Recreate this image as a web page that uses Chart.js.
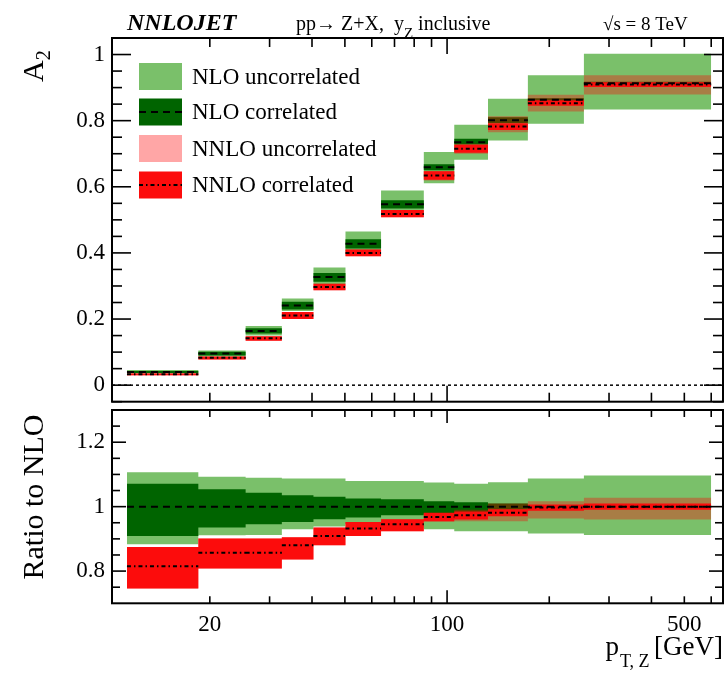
<!DOCTYPE html>
<html><head><meta charset="utf-8">
<script src="https://cdn.jsdelivr.net/npm/chart.js@4.4.0/dist/chart.umd.min.js"></script>
<style>
html,body{margin:0;padding:0;background:#fff;}
#wrap{position:relative;width:725px;height:679px;background:#fff;}
#c1{position:absolute;left:0;top:0;}
#c2{position:absolute;left:0;top:405px;}
</style></head><body>
<div id="wrap">
<canvas id="c1" width="725" height="405"></canvas>
<canvas id="c2" width="725" height="274"></canvas>
</div>
<script>
// ---------------- DATA ----------------
const binEdges = [11.4, 18.5, 25.5, 32.6, 40.4, 50.2, 63.9, 85.4, 105, 132, 173, 253, 600];

// Top panel: A2
const nloCentral  = [0.040,0.096,0.164,0.241,0.327,0.428,0.547,0.659,0.735,0.801,0.863,0.913];
const nloUncLow   = [0.035,0.087,0.150,0.224,0.306,0.405,0.515,0.611,0.682,0.740,0.791,0.834];
const nloUncHigh  = [0.046,0.105,0.179,0.262,0.356,0.465,0.589,0.705,0.788,0.866,0.937,1.002];
const nloCorLow   = [0.037,0.090,0.156,0.229,0.313,0.413,0.534,0.650,0.728,0.793,0.858,0.909];
const nloCorHigh  = [0.043,0.101,0.172,0.252,0.339,0.441,0.559,0.668,0.745,0.810,0.868,0.918];
const nnloCentral = [0.033,0.083,0.142,0.211,0.297,0.400,0.518,0.634,0.715,0.782,0.853,0.909];
const nnloUncLow  = [0.029,0.078,0.134,0.200,0.287,0.390,0.508,0.619,0.700,0.765,0.828,0.879];
const nnloUncHigh = [0.036,0.087,0.148,0.221,0.307,0.410,0.530,0.648,0.730,0.813,0.878,0.937];
const nnloCorLow  = [0.030,0.078,0.134,0.200,0.287,0.390,0.508,0.621,0.703,0.772,0.845,0.902];
const nnloCorHigh = [0.035,0.087,0.148,0.221,0.307,0.410,0.530,0.647,0.727,0.792,0.862,0.916];

// Bottom panel: ratio to NLO
const rNloCentral  = [1,1,1,1,1,1,1,1,1,1,1,1];
const rNloUncLow   = [0.883,0.911,0.912,0.930,0.938,0.945,0.935,0.930,0.924,0.924,0.917,0.912];
const rNloUncHigh  = [1.107,1.093,1.090,1.087,1.087,1.080,1.080,1.075,1.071,1.076,1.087,1.097];
const rNloCorLow   = [0.909,0.935,0.945,0.952,0.961,0.966,0.973,0.979,0.980,0.990,0.995,0.995];
const rNloCorHigh  = [1.071,1.054,1.043,1.035,1.031,1.025,1.023,1.017,1.014,1.010,1.005,1.005];
const rNnloCentral = [0.815,0.857,0.857,0.880,0.909,0.932,0.945,0.968,0.973,0.981,0.997,1.000];
const rNnloUncLow  = [0.746,0.808,0.808,0.836,0.880,0.909,0.924,0.953,0.955,0.955,0.963,0.960];
const rNnloUncHigh = [0.875,0.901,0.901,0.905,0.935,0.952,0.961,0.983,0.990,1.010,1.017,1.028];
const rNnloCorLow  = [0.746,0.808,0.808,0.836,0.880,0.909,0.924,0.955,0.960,0.970,0.987,0.990];
const rNnloCorHigh = [0.875,0.901,0.901,0.905,0.935,0.952,0.961,0.980,0.985,0.992,1.007,1.010];

// Axes / ticks
const xRange = [10.3, 650];
const xTickValues = [20, 100, 500];
const xTickLabels = ['20', '100', '500'];
const xMinorTicks = [20,30,40,50,60,70,80,90,200,300,400,500,600];
const xMajorTicks = [100];
const yTopRange = [-0.05, 1.05];
const yTopTicks = [0, 0.2, 0.4, 0.6, 0.8, 1];
const yTopLabels = ['0','0.2','0.4','0.6','0.8','1'];
const yTopMinor = [-0.05,0.05,0.1,0.15,0.25,0.3,0.35,0.45,0.5,0.55,0.65,0.7,0.75,0.85,0.9,0.95,1.05];
const yBotRange = [0.7, 1.3];
const yBotTicks = [0.8, 1, 1.2];
const yBotLabels = ['0.8','1','1.2'];
const yBotMinor = [0.75,0.85,0.9,0.95,1.05,1.1,1.15,1.25];
const legendLabels = ['NLO uncorrelated','NLO correlated','NNLO uncorrelated','NNLO correlated'];

// ---------------- STYLE ----------------
const FONT = '"Liberation Serif", "Times New Roman", serif';
Chart.defaults.font.family = FONT;
Chart.defaults.color = '#000';
const C_LG = 'rgb(122,192,106)';
const C_DG = 'rgb(0,100,0)';
const C_PINK = 'rgba(255,0,0,0.35)';
const C_RED = 'rgb(252,12,12)';
const DASH_NLO = [7,5];
const DASH_NNLO = [4,3,1.5,3];

function steps(vals){ const p=[]; vals.forEach((v,i)=>{p.push({x:binEdges[i],y:v});p.push({x:binEdges[i+1],y:v});}); return p; }
function segs(vals){ const p=[]; vals.forEach((v,i)=>{p.push({x:binEdges[i],y:v});p.push({x:binEdges[i+1],y:v});p.push({x:binEdges[i+1],y:null});}); return p; }

function band(lo, hi, color, order, startIndex){
  return [
    {data:steps(lo), borderWidth:0, pointRadius:0, fill:false, order:order, backgroundColor:'rgba(0,0,0,0)', borderColor:'rgba(0,0,0,0)'},
    {data:steps(hi), borderWidth:0, pointRadius:0, fill:startIndex, order:order, backgroundColor:color, borderColor:'rgba(0,0,0,0)'}
  ];
}
function buildDatasets(uL,uH,cL,cH,nuL,nuH,ncL,ncH,cen,ncen,nloLineFn,extra){
  const ds=[];
  ds.push(...band(uL,uH,C_LG,10,0));
  ds.push(...band(cL,cH,C_DG,8,2));
  ds.push(...band(nuL,nuH,C_PINK,6,4));
  ds.push(...band(ncL,ncH,C_RED,4,6));
  ds.push({data:nloLineFn(cen), borderColor:'#000', borderWidth:2, borderDash:DASH_NLO, pointRadius:0, fill:false, order:2});
  ds.push({data:segs(ncen), borderColor:'#000', borderWidth:2, borderDash:DASH_NNLO, pointRadius:0, fill:false, order:1});
  if (extra) ds.push(extra);
  return ds;
}

function ln(ctx,x1,y1,x2,y2){ctx.beginPath();ctx.moveTo(x1,y1);ctx.lineTo(x2,y2);ctx.stroke();}
function frameTicks(chart, yMaj, yMin, yMajLen, yMinLen, xMajLen, xMinLen){
  const {ctx, chartArea:a, scales:{x,y}} = chart;
  ctx.save(); ctx.strokeStyle='#000'; ctx.lineWidth=1.6; ctx.setLineDash([]);
  yMaj.forEach(v=>{const p=y.getPixelForValue(v); ln(ctx,a.left,p,a.left+yMajLen,p); ln(ctx,a.right,p,a.right-yMajLen,p);});
  yMin.forEach(v=>{const p=y.getPixelForValue(v); ln(ctx,a.left,p,a.left+yMinLen,p); ln(ctx,a.right,p,a.right-yMinLen,p);});
  xMinorTicks.forEach(v=>{const p=x.getPixelForValue(v); ln(ctx,p,a.bottom,p,a.bottom-xMinLen); ln(ctx,p,a.top,p,a.top+xMinLen);});
  xMajorTicks.forEach(v=>{const p=x.getPixelForValue(v); ln(ctx,p,a.bottom,p,a.bottom-xMajLen); ln(ctx,p,a.top,p,a.top+xMajLen);});
  ctx.lineWidth=2; ctx.strokeRect(a.left,a.top,a.width,a.height);
  ctx.restore();
}

const topDeco = {
  id:'topDeco',
  afterDraw(chart){
    const ctx = chart.ctx;
    frameTicks(chart, yTopTicks, yTopMinor, 19, 10, 16, 9);
    ctx.save();
    ctx.fillStyle='#000'; ctx.textBaseline='alphabetic'; ctx.textAlign='left';
    // header
    ctx.font='italic bold 24px '+FONT; ctx.fillText('NNLOJET',127,30);
    let x=296; ctx.font='20px '+FONT;
    const s1='pp\u2192 Z+X,  y'; ctx.fillText(s1,x,30); x+=ctx.measureText(s1).width;
    ctx.font='15px '+FONT; ctx.fillText('Z',x,38); x+=ctx.measureText('Z').width;
    ctx.font='20px '+FONT; ctx.fillText(' inclusive',x,30);
    ctx.font='19px '+FONT; ctx.fillText('\u221As = 8 TeV',603,30);
    // y title A2
    ctx.save(); ctx.translate(43,82); ctx.rotate(-Math.PI/2);
    ctx.font='30px '+FONT; ctx.fillText('A',0,0); const w=ctx.measureText('A').width;
    ctx.font='20px '+FONT; ctx.fillText('2',w,7);
    ctx.restore();
    // legend
    const lx=139, lw=43, lh=27, tx=192;
    const cy=[76.5,112,148.5,185];
    const cols=[C_LG,C_DG,C_PINK,C_RED];
    cols.forEach((c,i)=>{
      ctx.fillStyle=c; ctx.fillRect(lx,cy[i]-lh/2,lw,lh);
      if(i===1||i===3){
        ctx.strokeStyle='#000'; ctx.lineWidth=2; ctx.setLineDash(i===1?DASH_NLO:DASH_NNLO);
        ln(ctx,lx,cy[i],lx+lw,cy[i]); ctx.setLineDash([]);
      }
      ctx.fillStyle='#000'; ctx.font='23px '+FONT; ctx.textBaseline='middle';
      ctx.fillText(legendLabels[i],tx,cy[i]+1);
    });
    ctx.restore();
  }
};

const botDeco = {
  id:'botDeco',
  afterDraw(chart){
    const ctx = chart.ctx;
    frameTicks(chart, yBotTicks, yBotMinor, 14, 8, 13, 7);
    ctx.save(); ctx.fillStyle='#000'; ctx.textBaseline='alphabetic';
    // y title
    ctx.save(); ctx.translate(43,92); ctx.rotate(-Math.PI/2);
    ctx.font='30px '+FONT; ctx.textAlign='center'; ctx.fillText('Ratio to NLO',0,0);
    ctx.restore();
    // x title
    ctx.textAlign='left';
    ctx.font='27px '+FONT; const wG=ctx.measureText('[GeV]').width;
    ctx.fillText('[GeV]',723-wG,250);
    ctx.font='18px '+FONT; const wS=ctx.measureText('T, Z ').width;
    ctx.fillText('T, Z',723-wG-wS,262);
    ctx.font='27px '+FONT; const wP=ctx.measureText('p').width;
    ctx.fillText('p',723-wG-wS-wP-1,250);
    ctx.restore();
  }
};

function xScale(showLabels){
  return {
    type:'logarithmic', min:xRange[0], max:xRange[1], display:showLabels,
    afterBuildTicks(s){ s.ticks = xTickValues.map(v=>({value:v})); },
    afterFit(s){ if(showLabels) s.height = 274-198.3; s.paddingLeft=0; s.paddingRight=0; },
    ticks:{ autoSkip:false, maxRotation:0, minRotation:0, padding:8, font:{size:23}, color:'#000',
            callback:(v,i)=>xTickLabels[i] },
    grid:{display:false, drawTicks:false}, border:{display:false}
  };
}
function yScale(range, ticks, labels){
  return {
    type:'linear', min:range[0], max:range[1],
    afterBuildTicks(s){ s.ticks = ticks.map(v=>({value:v})); },
    afterFit(s){ s.width = 112; s.paddingTop=0; s.paddingBottom=0; },
    ticks:{ padding:7, font:{size:23}, color:'#000', callback:(v,i)=>labels[i] },
    grid:{display:false, drawTicks:false}, border:{display:false}
  };
}

const commonOpts = {
  responsive:false, animation:false, devicePixelRatio:1,
  plugins:{legend:{display:false}, tooltip:{enabled:false}},
  elements:{line:{tension:0}, point:{radius:0}}
};

const zeroLine = {data:[{x:xRange[0],y:0},{x:xRange[1],y:0}], borderColor:'#000', borderWidth:1.5, borderDash:[3,3], pointRadius:0, fill:false, order:3};

new Chart(document.getElementById('c1'), {
  type:'line',
  data:{datasets: buildDatasets(nloUncLow,nloUncHigh,nloCorLow,nloCorHigh,nnloUncLow,nnloUncHigh,nnloCorLow,nnloCorHigh,nloCentral,nnloCentral,segs,zeroLine)},
  options:Object.assign({}, commonOpts, {
    layout:{padding:{left:0,right:2,top:38,bottom:3.3}},
    scales:{x:xScale(false), y:yScale(yTopRange,yTopTicks,yTopLabels)}
  }),
  plugins:[topDeco]
});

new Chart(document.getElementById('c2'), {
  type:'line',
  data:{datasets: buildDatasets(rNloUncLow,rNloUncHigh,rNloCorLow,rNloCorHigh,rNnloUncLow,rNnloUncHigh,rNnloCorLow,rNnloCorHigh,rNloCentral,rNnloCentral,steps,null)},
  options:Object.assign({}, commonOpts, {
    layout:{padding:{left:0,right:2,top:5,bottom:0}},
    scales:{x:xScale(true), y:yScale(yBotRange,yBotTicks,yBotLabels)}
  }),
  plugins:[botDeco]
});
</script>
</body></html>
